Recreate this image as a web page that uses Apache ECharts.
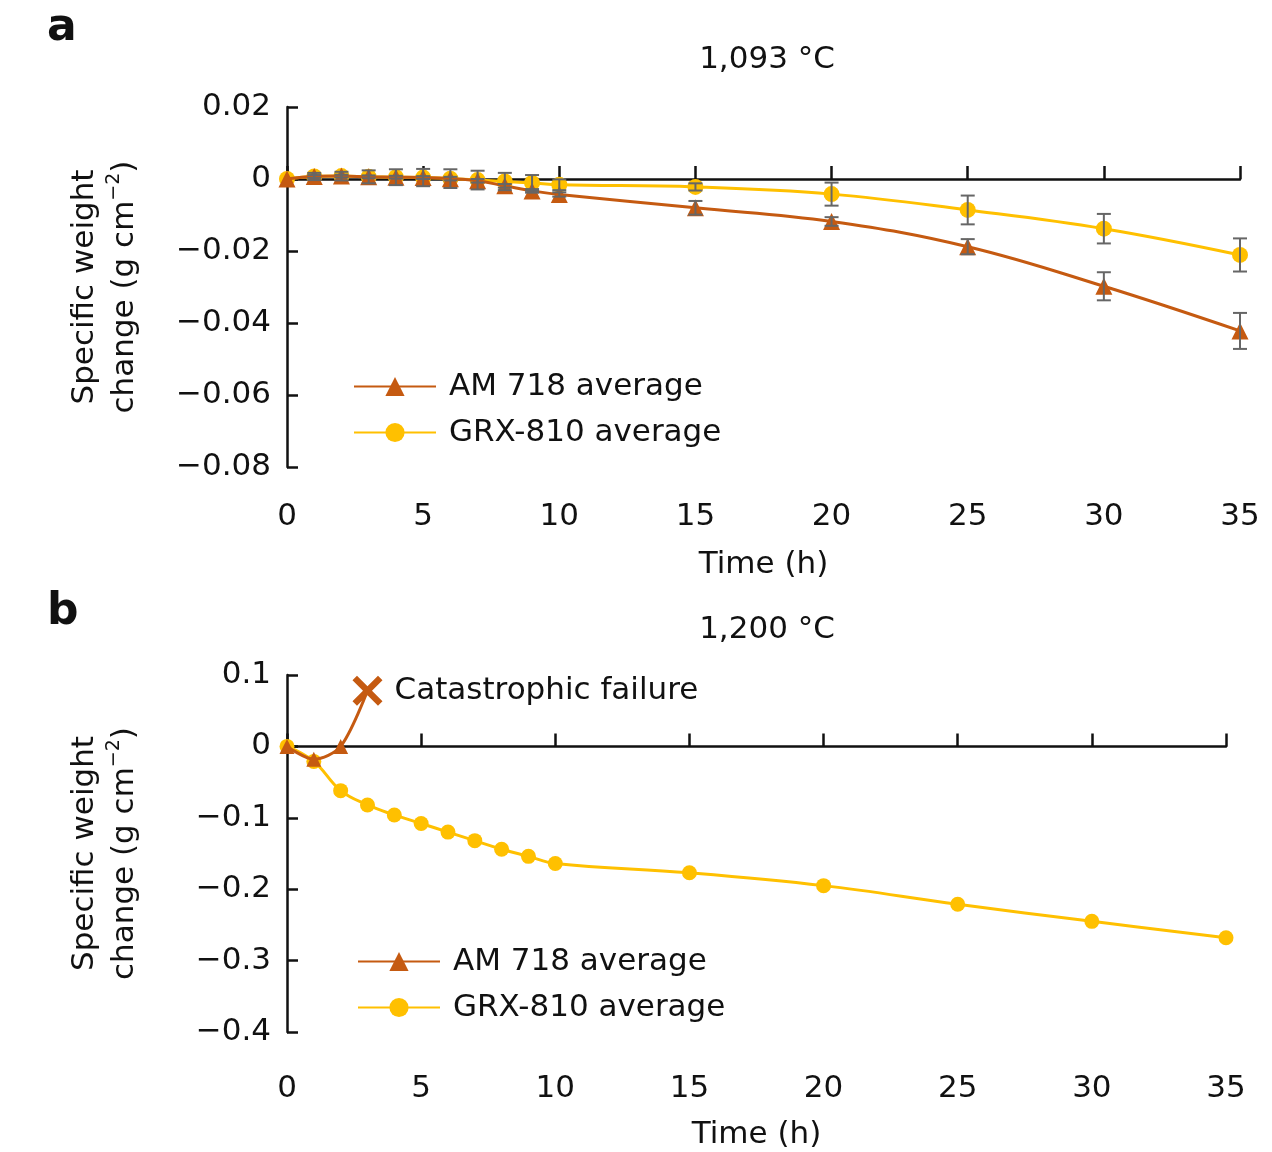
<!DOCTYPE html>
<html>
<head>
<meta charset="utf-8">
<script src="https://cdn.jsdelivr.net/npm/echarts@6/dist/echarts.min.js"></script>
<style>
  html, body { margin: 0; padding: 0; background: #fff; }
  #main { width: 1272px; height: 1152px; }
</style>
</head>
<body>
<div id="main"></div>
<script>
// time points (h)
var times = [0, 1, 2, 3, 4, 5, 6, 7, 8, 9, 10, 15, 20, 25, 30, 35];

// panel a, 1,093 °C
var am1093 = [0, 0.0007, 0.0008, 0.0006, 0.0005, 0.0004, 0.0001, -0.0005, -0.0019, -0.0033, -0.0043, -0.0080, -0.0118, -0.0188, -0.0298, -0.0422];
var am1093Err = [0, 0.0004, 0.0004, 0.0004, 0.0004, 0.0004, 0.0005, 0.0005, 0.0005, 0.0005, 0.0006, 0.0019, 0.0012, 0.0021, 0.0039, 0.0050];
var grx1093 = [0, 0.0007, 0.0008, 0.0006, 0.0005, 0.0004, 0.0001, -0.0003, -0.0007, -0.0011, -0.0016, -0.0022, -0.0042, -0.0086, -0.0138, -0.0211];
var grx1093Err = [0, 0.0010, 0.0012, 0.0018, 0.0022, 0.0024, 0.0026, 0.0026, 0.0024, 0.0022, 0.0015, 0.0010, 0.0032, 0.0040, 0.0041, 0.0046];

// panel b, 1,200 °C
var am1200Times = [0, 1, 2, 3];
var am1200 = [0, -0.018, 0, 0.078];
var grx1200 = [0, -0.021, -0.062, -0.082, -0.096, -0.108, -0.120, -0.132, -0.144, -0.154, -0.164, -0.177, -0.195, -0.221, -0.245, -0.268];

var AM_COLOR = '#C55A11';
var GRX_COLOR = '#FFC000';
var FONT = '"DejaVu Sans", "Liberation Sans", sans-serif';
var FS = 31;

var myChart = echarts.init(document.getElementById('main'));

function pairs(xs, ys) {
    var res = [];
    for (var i = 0; i < xs.length; i++) {
        res.push([xs[i], ys[i]]);
    }
    return res;
}

function errData(xs, ys, es) {
    var res = [];
    for (var i = 0; i < xs.length; i++) {
        if (es[i] > 0) res.push([xs[i], ys[i] - es[i], ys[i] + es[i]]);
    }
    return res;
}

function renderErr(params, api) {
    var x = api.value(0);
    var top = api.coord([x, api.value(2)]);
    var bot = api.coord([x, api.value(1)]);
    var w = 7;
    var st = { stroke: '#666', lineWidth: 2 };
    return {
        type: 'group',
        children: [
            { type: 'line', shape: { x1: top[0], y1: top[1], x2: bot[0], y2: bot[1] }, style: st },
            { type: 'line', shape: { x1: top[0] - w, y1: top[1], x2: top[0] + w, y2: top[1] }, style: st },
            { type: 'line', shape: { x1: bot[0] - w, y1: bot[1], x2: bot[0] + w, y2: bot[1] }, style: st }
        ]
    };
}

function fmt(digits) {
    return function (v) {
        if (Math.abs(v) < 1e-9) return '0';
        return v.toFixed(digits).replace('-', '\u2212');
    };
}

// thick X mark for the failure point
var crossPath = 'path://M3,0 L10,7 L17,0 L20,3 L13,10 L20,17 L17,20 L10,13 L3,20 L0,17 L7,10 L0,3 Z';

var yName = 'Specific weight\nchange (g cm{sup|\u22122})';
var yNameStyle = {
    fontFamily: FONT, fontSize: FS, color: '#111', lineHeight: 40,
    rich: { sup: { fontFamily: FONT, fontSize: 19, color: '#111', verticalAlign: 'top', lineHeight: 40 } }
};

function lineAxis(grid) {
    return {
        type: 'value', gridIndex: grid, min: 0, max: 35, interval: 5, position: 'bottom',
        axisLine: { onZero: true, lineStyle: { color: '#111', width: 2.5 } },
        axisTick: { inside: true, length: 13, lineStyle: { color: '#111', width: 2.5 } },
        axisLabel: { show: false },
        splitLine: { show: false }
    };
}
function labelAxis(grid, margin, gap) {
    return {
        type: 'value', gridIndex: grid, min: 0, max: 35, interval: 5, position: 'bottom',
        axisLine: { show: false, onZero: false },
        axisTick: { show: false },
        axisLabel: { margin: margin, fontFamily: FONT, fontSize: FS, color: '#111' },
        splitLine: { show: false },
        name: 'Time (h)', nameLocation: 'middle', nameGap: gap,
        nameTextStyle: { fontFamily: FONT, fontSize: FS, color: '#111' }
    };
}
function yAxis(grid, min, max, interval, digits) {
    return {
        type: 'value', gridIndex: grid, min: min, max: max, interval: interval,
        axisLine: { onZero: false, lineStyle: { color: '#111', width: 2.5 } },
        axisTick: { inside: true, length: 11, lineStyle: { color: '#111', width: 2.5 } },
        axisLabel: { margin: 16, fontFamily: FONT, fontSize: FS, color: '#111', formatter: fmt(digits) },
        splitLine: { show: false },
        name: yName, nameLocation: 'middle', nameRotate: 90, nameGap: 142,
        nameTextStyle: yNameStyle
    };
}

option = {
    backgroundColor: '#fff',
    animation: false,
    title: [
        { text: 'a', left: 42, top: 2, textStyle: { fontFamily: FONT, fontSize: 44, fontWeight: 'bold', color: '#111' } },
        { text: '1,093 \u00b0C', left: 762, top: 39, textAlign: 'center', textStyle: { fontFamily: FONT, fontSize: FS, fontWeight: 'normal', color: '#111' } },
        { text: 'b', left: 42, top: 586, textStyle: { fontFamily: FONT, fontSize: 44, fontWeight: 'bold', color: '#111' } },
        { text: '1,200 \u00b0C', left: 762, top: 609, textAlign: 'center', textStyle: { fontFamily: FONT, fontSize: FS, fontWeight: 'normal', color: '#111' } }
    ],
    legend: [
        {
            orient: 'vertical', left: 348, top: 366, itemWidth: 82, itemHeight: 24, itemGap: 15,
            data: ['AM 718 average', 'GRX-810 average'],
            textStyle: { fontFamily: FONT, fontSize: FS, color: '#111', padding: [0, 0, 0, 8] }
        },
        {
            orient: 'vertical', left: 352, top: 941, itemWidth: 82, itemHeight: 24, itemGap: 15,
            data: ['AM 718 average ', 'GRX-810 average '],
            formatter: function (n) { return n.trim(); },
            textStyle: { fontFamily: FONT, fontSize: FS, color: '#111', padding: [0, 0, 0, 8] }
        }
    ],
    grid: [
        { left: 287, top: 107, width: 953, height: 360 },
        { left: 287, top: 675, width: 939, height: 357 }
    ],
    xAxis: [
        lineAxis(0),
        labelAxis(0, 34, 82),
        lineAxis(1),
        labelAxis(1, 41, 87)
    ],
    yAxis: [
        yAxis(0, -0.08, 0.02, 0.02, 2),
        yAxis(1, -0.4, 0.1, 0.1, 1)
    ],
    series: [
        {
            name: 'GRX-810 average', type: 'line', xAxisIndex: 0, yAxisIndex: 0,
            data: pairs(times, grx1093), smooth: 0.4,
            symbol: 'circle', symbolSize: 16,
            lineStyle: { color: GRX_COLOR, width: 3 },
            itemStyle: { color: GRX_COLOR }, z: 3
        },
        {
            name: 'AM 718 average', type: 'line', xAxisIndex: 0, yAxisIndex: 0,
            data: pairs(times, am1093), smooth: 0.4,
            symbol: 'triangle', symbolSize: 17,
            lineStyle: { color: AM_COLOR, width: 3 },
            itemStyle: { color: AM_COLOR }, z: 4
        },
        {
            type: 'custom', xAxisIndex: 0, yAxisIndex: 0, renderItem: renderErr,
            data: errData(times, grx1093, grx1093Err), encode: { x: 0, y: [1, 2] }, z: 5
        },
        {
            type: 'custom', xAxisIndex: 0, yAxisIndex: 0, renderItem: renderErr,
            data: errData(times, am1093, am1093Err), encode: { x: 0, y: [1, 2] }, z: 5
        },
        {
            name: 'GRX-810 average ', type: 'line', xAxisIndex: 2, yAxisIndex: 1,
            data: pairs(times, grx1200), smooth: 0.4,
            symbol: 'circle', symbolSize: 15,
            lineStyle: { color: GRX_COLOR, width: 3 },
            itemStyle: { color: GRX_COLOR }, z: 3
        },
        {
            name: 'AM 718 average ', type: 'line', xAxisIndex: 2, yAxisIndex: 1,
            data: pairs(am1200Times, am1200).map(function (p, i) {
                if (i === am1200Times.length - 1) {
                    return {
                        value: p, symbol: crossPath, symbolSize: 30,
                        label: {
                            show: true, position: 'right', distance: 12,
                            formatter: 'Catastrophic failure',
                            fontFamily: FONT, fontSize: FS, color: '#111'
                        }
                    };
                }
                return p;
            }),
            smooth: 0.3,
            symbol: 'triangle', symbolSize: 15,
            lineStyle: { color: AM_COLOR, width: 3 },
            itemStyle: { color: AM_COLOR }, z: 4
        }
    ]
};

myChart.setOption(option);
</script>
</body>
</html>
